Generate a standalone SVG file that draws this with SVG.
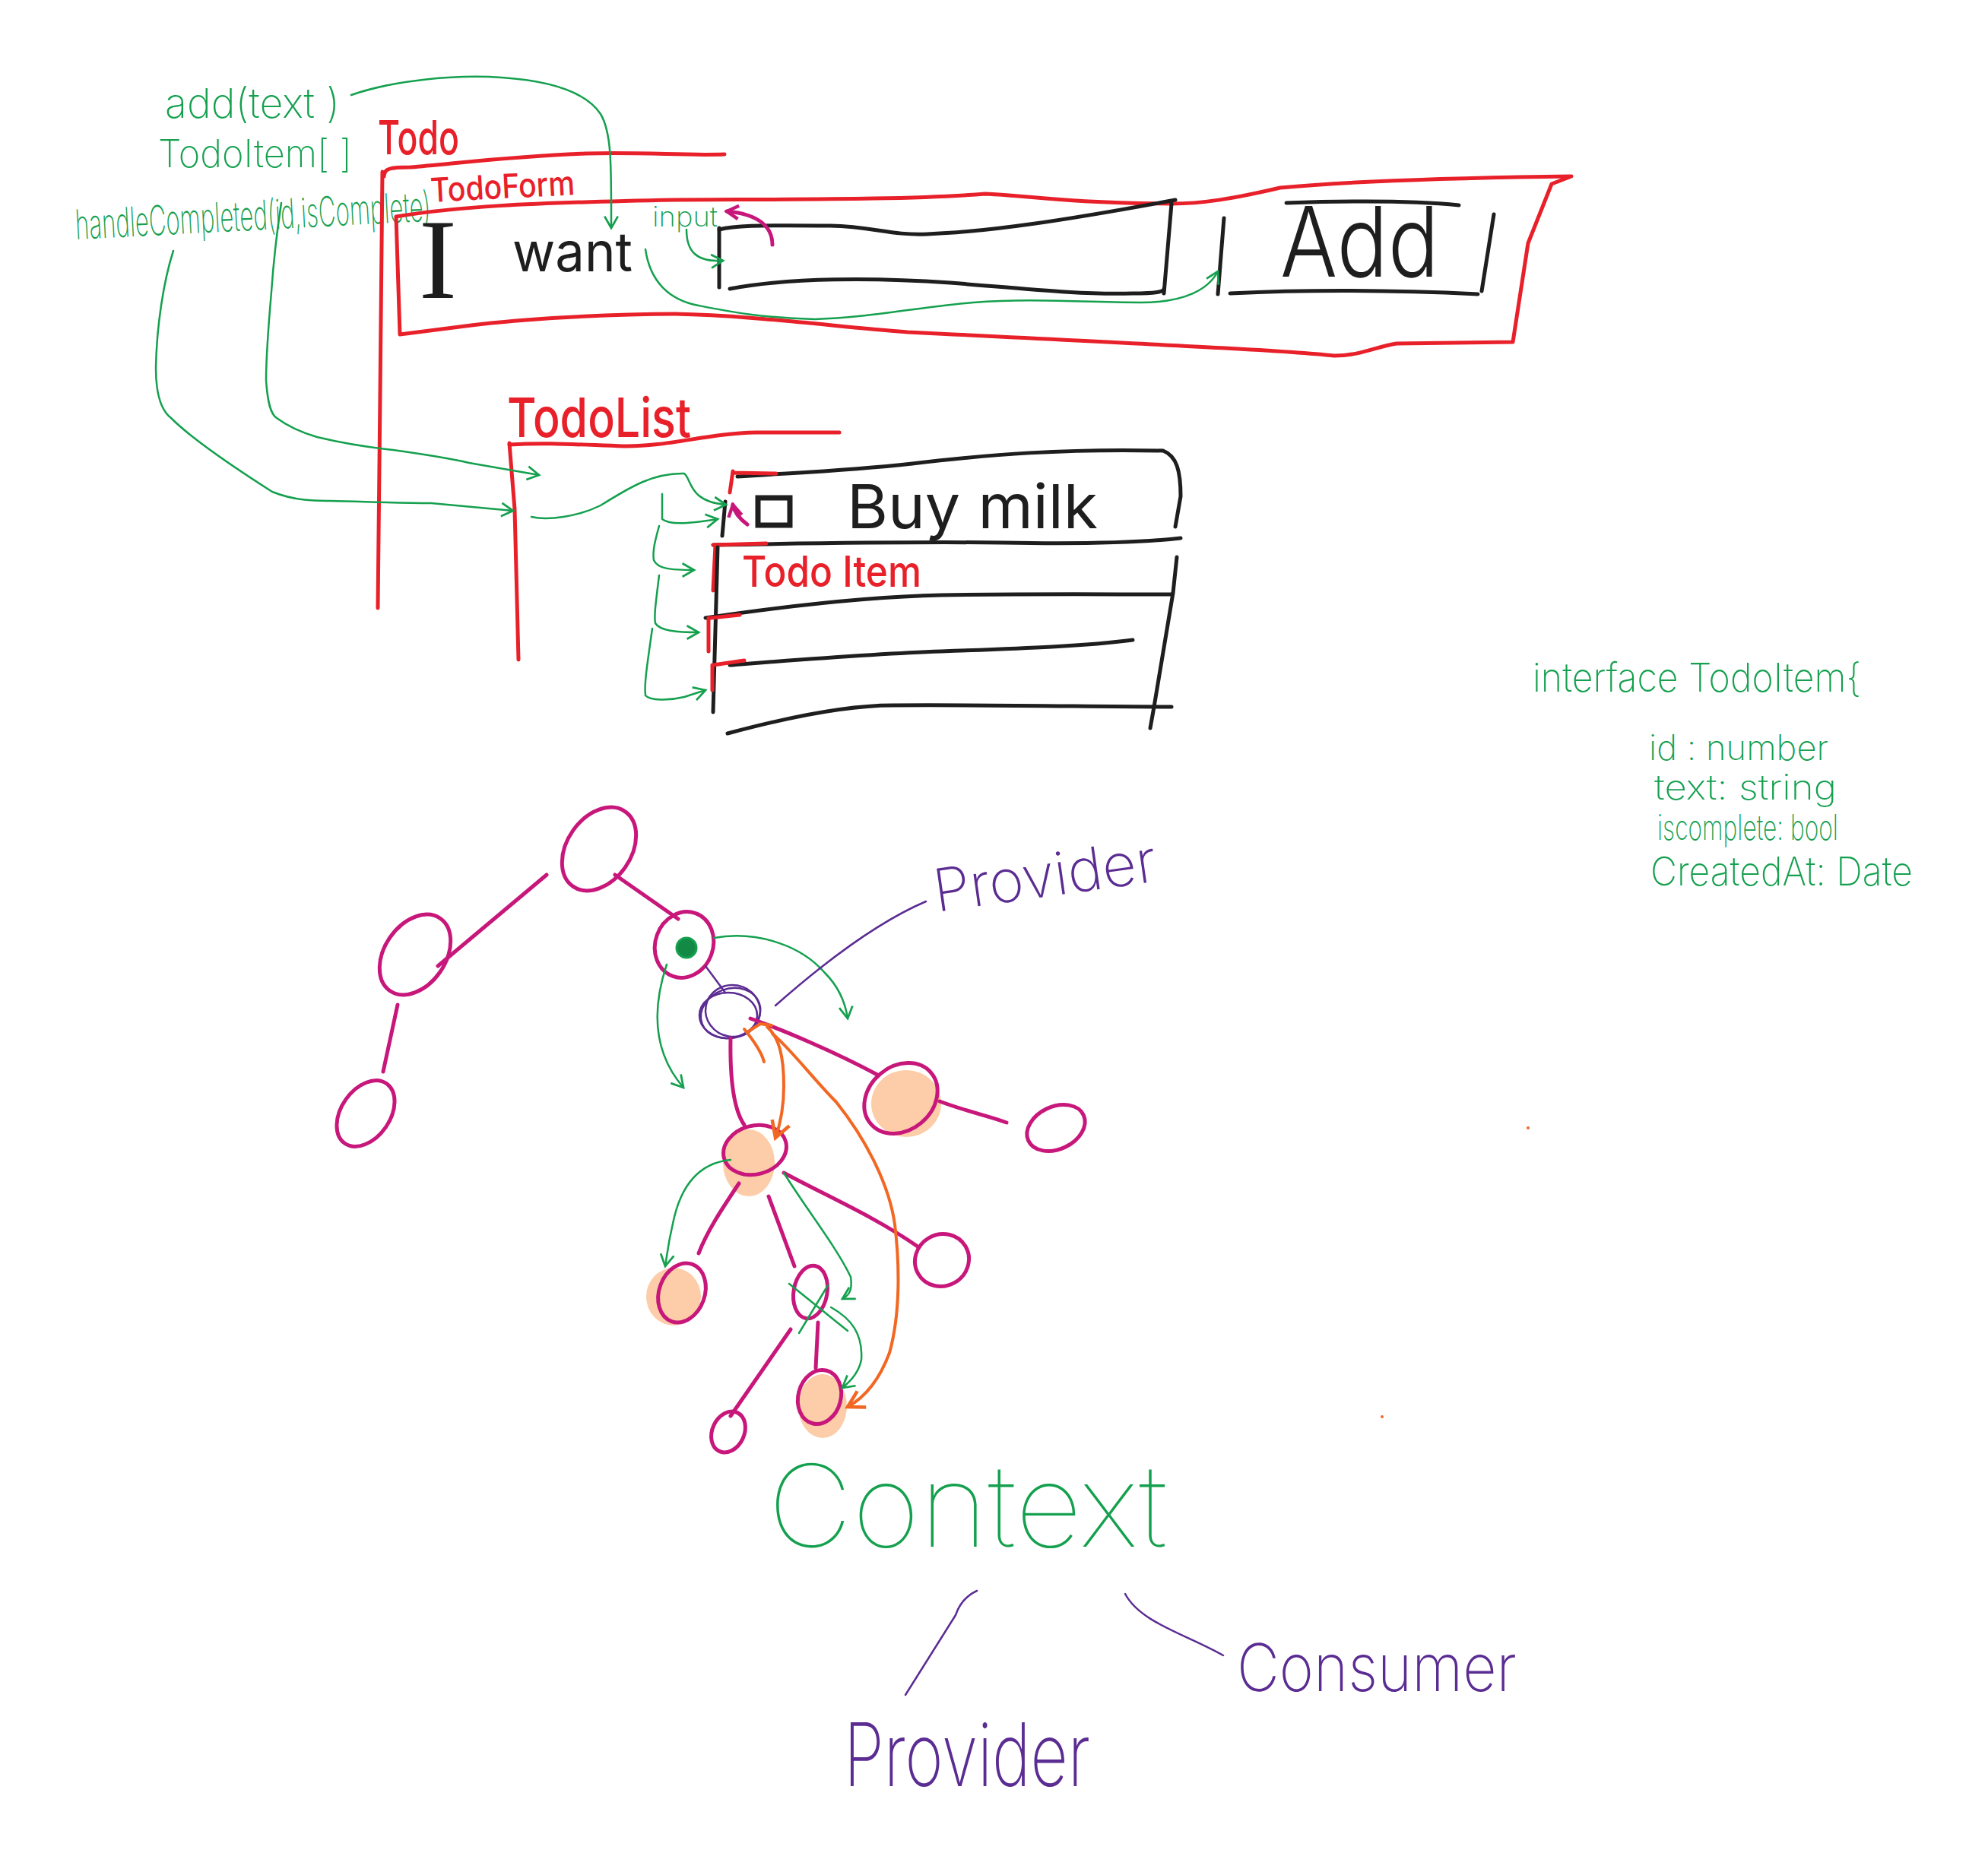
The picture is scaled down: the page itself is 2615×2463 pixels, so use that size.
<svg xmlns="http://www.w3.org/2000/svg" width="2615" height="2463" viewBox="0 0 2615 2463">
<style>
.red{stroke:#E8202A;stroke-width:5;fill:none;stroke-linecap:round;stroke-linejoin:round}
.blk{stroke:#1E1E1E;stroke-width:5;fill:none;stroke-linecap:round;stroke-linejoin:round}
.grn{stroke:#14A04E;stroke-width:2.5;fill:none;stroke-linecap:round;stroke-linejoin:round}
.mag{stroke:#C8177B;stroke-width:5;fill:none;stroke-linecap:round;stroke-linejoin:round}
.pur{stroke:#5B2C92;stroke-width:2.5;fill:none;stroke-linecap:round;stroke-linejoin:round}
.org{stroke:#F26722;stroke-width:4;fill:none;stroke-linecap:round;stroke-linejoin:round}
.peach{fill:#FCCDA8;stroke:none}
.tg{fill:#14A04E;font-family:Inter,"Liberation Sans",sans-serif;font-weight:200}
.tr{fill:#E8202A;font-family:Inter,"Liberation Sans",sans-serif;font-weight:500}
.tk{fill:#1E1E1E;font-family:Inter,"Liberation Sans",sans-serif;font-weight:400}
.tp{fill:#5B2C92;font-family:Inter,"Liberation Sans",sans-serif;font-weight:200}
</style>
<defs>
<marker id="ag" viewBox="0 0 20 20" refX="17" refY="10" markerWidth="22" markerHeight="22" markerUnits="userSpaceOnUse" orient="auto"><path d="M3,2 L17,10 L3,18" fill="none" stroke="#14A04E" stroke-width="2.5"/></marker>
<marker id="am" viewBox="0 0 20 20" refX="17" refY="10" markerWidth="22" markerHeight="22" markerUnits="userSpaceOnUse" orient="auto"><path d="M3,2 L17,10 L3,18" fill="none" stroke="#C8177B" stroke-width="4"/></marker>
<marker id="ao" viewBox="0 0 20 20" refX="17" refY="10" markerWidth="30" markerHeight="30" markerUnits="userSpaceOnUse" orient="auto"><path d="M3,2 L17,10 L3,18" fill="none" stroke="#F26722" stroke-width="3"/></marker>
</defs>
<rect width="2615" height="2463" fill="#FFFFFF"/>

<g id="labels-top">
<text class="tg" x="217" y="155" font-size="54" textLength="230" lengthAdjust="spacingAndGlyphs">add(text )</text>
<text class="tg" x="208" y="220" font-size="50" textLength="255" lengthAdjust="spacingAndGlyphs">TodoItem[ ]</text>
<text class="tg" x="100" y="315" font-size="54" textLength="468" lengthAdjust="spacingAndGlyphs" transform="rotate(-3 100 315)">handleCompleted(id,isComplete)</text>
</g>

<g id="todo">
<text class="tr" x="497" y="203" font-size="62" textLength="107" lengthAdjust="spacingAndGlyphs">Todo</text>
<path class="red" d="M505,232 C505,222 512,220 540,220 C600,215 680,205 770,202 C850,200 900,205 953,203"/>
<path class="red" d="M503,226 L500,520 L497,800"/>
</g>

<g id="todoform">
<text class="tr" x="567" y="266" font-size="44" textLength="190" lengthAdjust="spacingAndGlyphs" transform="rotate(-3 567 266)">TodoForm</text>
<path class="red" d="M521,285 C600,272 684,267 888,263 C1050,262 1194,263 1296,255 C1360,258 1398,267 1541,268 C1580,268 1620,262 1684,247 C1760,240 1900,234 2067,232 L2041,242 L2010,320 L1990,450 L1837,452 C1810,456 1790,468 1755,468 C1700,462 1602,457 1194,437 C1100,430 990,415 888,413 C800,413 684,420 620,428 L526,440 L521,285"/>
<text class="tk" x="576" y="392" font-size="150" text-anchor="middle" style="font-family:'Liberation Serif',serif;font-weight:400">I</text>
<text class="tk" x="674" y="357" font-size="72" textLength="158" lengthAdjust="spacingAndGlyphs">want</text>
</g>

<g id="input">
<text class="tg" x="858" y="298" font-size="36" textLength="86" lengthAdjust="spacingAndGlyphs">input</text>
<path class="blk" d="M946,300 L946,378"/>
<path class="blk" d="M946,302 C965,297 990,296 1092,297 C1150,298 1170,310 1220,308 C1300,305 1400,290 1546,263"/>
<path class="blk" d="M1541,268 L1531,386"/>
<path class="blk" d="M960,380 C1040,365 1150,365 1250,372 C1350,380 1420,388 1490,386 C1520,386 1531,384 1531,380"/>
</g>

<g id="add-button">
<path class="blk" d="M1610,287 L1602,387"/>
<path class="blk" d="M1692,267 C1750,265 1850,263 1919,270"/>
<path class="blk" d="M1965,282 L1949,383"/>
<path class="blk" d="M1618,386 C1700,382 1800,380 1944,387"/>
<text class="tk" x="1684" y="364" font-size="128" textLength="209" lengthAdjust="spacingAndGlyphs" style="font-weight:300">Add</text>
</g>

<g id="todolist">
<text class="tr" x="667" y="575" font-size="72" textLength="242" lengthAdjust="spacingAndGlyphs">TodoList</text>
<path class="red" d="M670,585 C720,582 760,585 820,587 C880,588 930,570 995,569 L1104,569"/>
<path class="red" d="M670,583 L677,670 L682,868"/>
</g>

<g id="todoitems">
<path class="blk" d="M970,627 C1040,622 1110,620 1200,610 C1302,598 1400,590 1530,593 C1548,600 1553,620 1553,653 L1546,693"/>
<path class="red" d="M964,620 L960,648 M964,622 L1021,623"/>
<path class="blk" d="M954,660 L950,705"/>
<rect x="997" y="655" width="42" height="36" fill="none" stroke="#1E1E1E" stroke-width="7"/>
<text class="tk" x="1114" y="695" font-size="80" textLength="330" lengthAdjust="spacingAndGlyphs">Buy  milk</text>
<path class="blk" d="M938,717 C1100,714 1238,713 1320,714 C1429,716 1500,714 1553,708"/>
<path class="red" d="M938,717 L1008,715 M941,717 L938,777"/>
<path class="blk" d="M1548,733 L1543,780 L1518,930 L1513,958"/>
<path class="blk" d="M944,720 L938,937"/>
<text class="tr" x="976" y="772" font-size="56" textLength="236" lengthAdjust="spacingAndGlyphs">Todo Item</text>
<path class="blk" d="M928,813 C1050,795 1150,785 1238,783 C1350,781 1450,782 1541,782"/>
<path class="red" d="M935,813 L973,809 M932,813 L932,857"/>
<path class="blk" d="M960,875 C1050,868 1150,860 1238,857 C1350,853 1430,850 1490,842"/>
<path class="red" d="M938,875 L979,869 M937,875 L937,908"/>
<path class="blk" d="M957,965 C1050,940 1120,928 1174,928 C1300,927 1450,930 1541,930"/>
</g>

<g id="tree-nodes">
<ellipse class="peach" cx="1192" cy="1452" rx="46" ry="44"/>
<ellipse class="peach" cx="985" cy="1530" rx="34" ry="44"/>
<ellipse class="peach" cx="886" cy="1706" rx="36" ry="38"/>
<ellipse class="peach" cx="1082" cy="1850" rx="32" ry="42"/>
<ellipse class="mag" cx="788" cy="1117" rx="60" ry="42" transform="rotate(-55 788 1117)"/>
<ellipse class="mag" cx="546" cy="1256" rx="58" ry="40" transform="rotate(-55 546 1256)"/>
<ellipse class="mag" cx="481" cy="1465" rx="48" ry="32" transform="rotate(-55 481 1465)"/>
<ellipse class="mag" cx="900" cy="1243" rx="44" ry="38" transform="rotate(-70 900 1243)"/>
<circle cx="903" cy="1247" r="13" fill="#128A45" stroke="#14A04E" stroke-width="3"/>
<ellipse class="pur" cx="961" cy="1333" rx="40" ry="32" transform="rotate(-20 961 1333)"/>
<ellipse class="pur" cx="964" cy="1330" rx="36" ry="34" transform="rotate(10 964 1330)"/>
<ellipse class="pur" cx="958" cy="1336" rx="38" ry="30"/>
<ellipse class="mag" cx="1185" cy="1445" rx="52" ry="42" transform="rotate(-40 1185 1445)"/>
<ellipse class="mag" cx="1389" cy="1484" rx="40" ry="28" transform="rotate(-25 1389 1484)"/>
<ellipse class="mag" cx="993" cy="1513" rx="42" ry="32" transform="rotate(-15 993 1513)"/>
<ellipse class="mag" cx="897" cy="1701" rx="40" ry="30" transform="rotate(-70 897 1701)"/>
<ellipse class="mag" cx="1066" cy="1700" rx="35" ry="22" transform="rotate(-80 1066 1700)"/>
<ellipse class="mag" cx="1239" cy="1658" rx="36" ry="34" transform="rotate(-30 1239 1658)"/>
<ellipse class="mag" cx="958" cy="1884" rx="28" ry="21" transform="rotate(-65 958 1884)"/>
<ellipse class="mag" cx="1078" cy="1838" rx="36" ry="28" transform="rotate(-75 1078 1838)"/>
</g>

<g id="provider-label">
<text class="tp" x="1232" y="1200" font-size="78" textLength="295" lengthAdjust="spacingAndGlyphs" transform="rotate(-8 1232 1200)">Provider</text>
</g>

<g id="context">
<text class="tg" x="1010" y="2035" font-size="150" textLength="525" lengthAdjust="spacingAndGlyphs" style="font-weight:100">Context</text>
</g>
<g id="provider-bottom">
<text class="tp" x="1110" y="2350" font-size="115" textLength="324" lengthAdjust="spacingAndGlyphs">Provider</text>
</g>
<g id="consumer">
<text class="tp" x="1627" y="2225" font-size="86" textLength="368" lengthAdjust="spacingAndGlyphs">Consumer</text>
</g>

<g id="interface">
<text class="tg" x="2016" y="910" font-size="52" textLength="432" lengthAdjust="spacingAndGlyphs">interface TodoItem{</text>
<text class="tg" x="2169" y="1000" font-size="46" textLength="236" lengthAdjust="spacingAndGlyphs">id : number</text>
<text class="tg" x="2176" y="1052" font-size="46" textLength="240" lengthAdjust="spacingAndGlyphs">text:  string</text>
<text class="tg" x="2180" y="1105" font-size="46" textLength="238" lengthAdjust="spacingAndGlyphs">iscomplete: bool</text>
<text class="tg" x="2171" y="1165" font-size="52" textLength="345" lengthAdjust="spacingAndGlyphs">CreatedAt: Date</text>
</g>

<g id="connectors">
<path class="grn" marker-end="url(#ag)" d="M462,125 C520,105 600,98 660,102 C720,106 770,120 790,150 C805,175 804,220 804,300"/>
<path class="grn" marker-end="url(#ag)" d="M228,330 C215,370 206,430 205,484 C205,520 212,540 225,550 C250,575 300,610 358,647 C390,660 420,659 434,659 C480,660 520,662 567,662 L675,672"/>
<path class="grn" marker-end="url(#ag)" d="M370,267 C365,300 360,340 357,384 C353,430 350,470 350,500 C352,530 356,545 364,550 C380,562 400,570 417,575 C450,583 480,588 517,592 C560,598 600,605 617,609 L709,625"/>
<path class="grn" marker-end="url(#ag)" d="M699,680 C720,685 760,680 790,665 C830,640 860,622 900,623 C910,630 905,660 955,664"/>
<path class="grn" marker-end="url(#ag)" d="M871,650 L871,683 C880,690 900,690 944,683"/>
<path class="grn" marker-end="url(#ag)" d="M867,692 C862,710 858,725 860,737 C865,748 880,750 913,750"/>
<path class="grn" marker-end="url(#ag)" d="M867,757 C863,790 860,810 862,820 C868,830 890,832 919,832"/>
<path class="grn" marker-end="url(#ag)" d="M858,827 C852,870 847,900 849,915 C855,922 880,922 900,917 L928,908"/>
<path class="grn" marker-end="url(#ag)" d="M903,302 C903,330 915,345 951,343"/>
<path class="grn" marker-end="url(#ag)" d="M849,328 C855,370 880,395 919,402 C960,410 1000,418 1072,420 C1143,418 1200,405 1280,398 C1360,392 1420,398 1500,398 C1560,398 1590,380 1602,357"/>
<path class="mag" marker-end="url(#am)" stroke-width="4" d="M1016,322 C1016,300 1000,282 956,278"/>
<path class="mag" marker-end="url(#am)" stroke-width="4" d="M983,690 C972,682 966,674 964,664"/>

<path class="mag" d="M719,1151 L576,1271"/>
<path class="mag" d="M523,1322 L504,1410"/>
<path class="mag" d="M809,1151 L892,1209"/>
<path class="pur" d="M928,1271 L954,1306"/>
<path class="mag" d="M961,1366 C960,1420 965,1460 979,1480"/>
<path class="mag" d="M987,1340 C1030,1355 1100,1385 1154,1414"/>
<path class="mag" d="M1236,1449 C1270,1462 1300,1468 1324,1477"/>
<path class="mag" d="M972,1557 C950,1590 930,1620 919,1649"/>
<path class="mag" d="M1011,1574 L1045,1666"/>
<path class="mag" d="M1031,1543 C1080,1570 1150,1600 1207,1640"/>
<path class="mag" d="M1040,1749 L961,1863"/>
<path class="mag" d="M1076,1740 L1073,1800"/>

<path class="grn" marker-end="url(#ag)" d="M877,1269 C860,1320 855,1380 899,1431"/>
<path class="grn" marker-end="url(#ag)" d="M939,1234 C990,1225 1050,1240 1085,1280 C1105,1300 1112,1320 1115,1340"/>
<path class="grn" marker-end="url(#ag)" d="M961,1526 C920,1530 895,1560 885,1610 C878,1640 877,1655 875,1666"/>
<path class="grn" marker-end="url(#ag)" d="M1031,1543 C1060,1590 1100,1640 1119,1680 C1122,1700 1115,1705 1108,1709"/>
<path class="grn" d="M1038,1689 L1115,1751 M1051,1754 L1089,1691"/>
<path class="grn" marker-end="url(#ag)" d="M1093,1720 C1120,1735 1135,1755 1133,1789 C1130,1805 1118,1818 1108,1826"/>

<path class="org" d="M983,1358 L1000,1347 L1015,1349"/>
<path class="org" d="M979,1354 C992,1370 1002,1385 1005,1397"/>
<path class="org" marker-end="url(#ao)" d="M1009,1351 C1025,1365 1031,1390 1031,1429 C1031,1460 1026,1480 1020,1497"/>
<path class="org" marker-end="url(#ao)" d="M1016,1360 C1040,1380 1070,1420 1100,1450 C1140,1500 1170,1560 1177,1611 C1183,1660 1185,1726 1170,1780 C1155,1820 1135,1840 1115,1851"/>

<path class="pur" d="M1020,1323 C1080,1270 1150,1215 1218,1186"/>
<path class="pur" d="M1285,2093 C1270,2100 1262,2110 1257,2125 L1191,2230"/>
<path class="pur" d="M1480,2097 C1500,2135 1560,2150 1609,2178"/>
</g>
<circle cx="2010" cy="1484" r="2" fill="#F26722"/>
<circle cx="1818" cy="1864" r="2" fill="#F26722"/>
</svg>
